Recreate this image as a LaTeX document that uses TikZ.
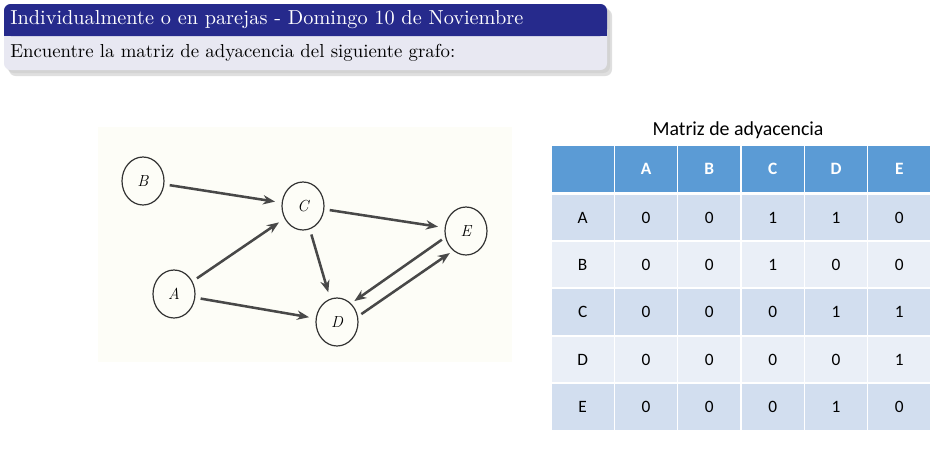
\documentclass[tikz,border=0pt]{standalone}
\usepackage{fontspec}
\usepackage{graphicx}
\newfontfamily\calibri{Carlito}
\usetikzlibrary{shapes.geometric,arrows.meta,calc}
\definecolor{titleblue}{RGB}{38,42,140}
\definecolor{bodygray}{RGB}{232,232,242}
\definecolor{hdrblue}{RGB}{91,155,213}
\definecolor{rowdark}{RGB}{210,222,239}
\definecolor{rowlight}{RGB}{234,239,247}
\definecolor{edgegray}{RGB}{72,72,72}
\definecolor{paper}{RGB}{253,253,247}
\tikzset{
  vert/.style={ellipse,draw=black!80,line width=0.9pt,minimum width=31.5pt,minimum height=36pt,inner sep=0pt,font=\itshape\fontsize{12}{14}\selectfont},
  arr/.style={draw=edgegray,line width=1.9pt,-{Stealth[length=9pt,width=7pt]},shorten >=5pt,shorten <=4pt},
  cell/.style={rectangle,draw=white,line width=1.2pt,minimum width=47.5pt,minimum height=35.55pt,inner sep=0pt,font=\calibri\fontsize{13}{15}\selectfont},
  hcell/.style={cell,fill=hdrblue,text=white,font=\calibri\bfseries\fontsize{13}{15}\selectfont},
  dcell/.style={cell,fill=rowdark},
  lcell/.style={cell,fill=rowlight},
}
\begin{document}
\begin{tikzpicture}[x=0.75pt,y=-0.75pt]
\useasboundingbox (0,0) rectangle (939,450);
% header box with shadow
\fill[black!25,opacity=0.5,rounded corners=5pt] (9,9) rectangle (612,76);
\fill[black!20,opacity=0.6,rounded corners=5pt] (7,7) rectangle (610,73);
\fill[bodygray,rounded corners=5pt] (4,4) rectangle (607,70);
\fill[titleblue,rounded corners=5pt] (4,4) rectangle (607,36);
\fill[titleblue] (4,20) rectangle (607,36);
\node[anchor=west,text=white,inner sep=0pt] (title) at (10,20)
  {\resizebox{384.75pt}{!}{Individualmente o en parejas - Domingo 10 de Noviembre}};
\node[anchor=west,inner sep=0pt] (task) at (10,53)
  {\resizebox{333.75pt}{!}{Encuentre la matriz de adyacencia del siguiente grafo:}};
% graph
\fill[paper] (98,127) rectangle (512,362);
\node[vert] (B) at (143,181) {B};
\node[vert] (C) at (303,206) {C};
\node[vert] (E) at (466,231) {E};
\node[vert] (A) at (174,294) {A};
\node[vert] (D) at (337,322) {D};
\draw[arr] (B) -- (C);
\draw[arr] (A) -- (C);
\draw[arr] (A) -- (D);
\draw[arr] (C) -- (E);
\draw[arr] (C) -- (D);
\draw[arr,shorten <=3pt,shorten >=3pt] (E.197) -- (D.53);
\draw[arr,shorten <=3pt,shorten >=3pt] (D.15) -- (E.237);
% table
\node[font=\calibri\fontsize{14.9}{17}\selectfont] (mtitle) at (738,130) {Matriz de adyacencia};
\foreach \t [count=\i from 0] in {{},A,B,C,D,E}
  \node[hcell] (h\i) at ({551+63.33*(\i+0.5)},169) {\t};
\foreach \r/\y/\st/\vals [count=\j] in {
  A/217.5/dcell/{0,0,1,1,0},
  B/264.5/lcell/{0,0,1,0,0},
  C/312/dcell/{0,0,0,1,1},
  D/359.5/lcell/{0,0,0,0,1},
  E/407/dcell/{0,0,0,1,0}}{
  \node[\st] (r\j c0) at ({551+63.33*0.5},\y) {\r};
  \foreach \v [count=\i] in \vals
    \node[\st] (r\j c\i) at ({551+63.33*(\i+0.5)},\y) {\v};
}
\draw[white,line width=1.5pt] (551,193) -- (931,193);
\end{tikzpicture}
\end{document}
